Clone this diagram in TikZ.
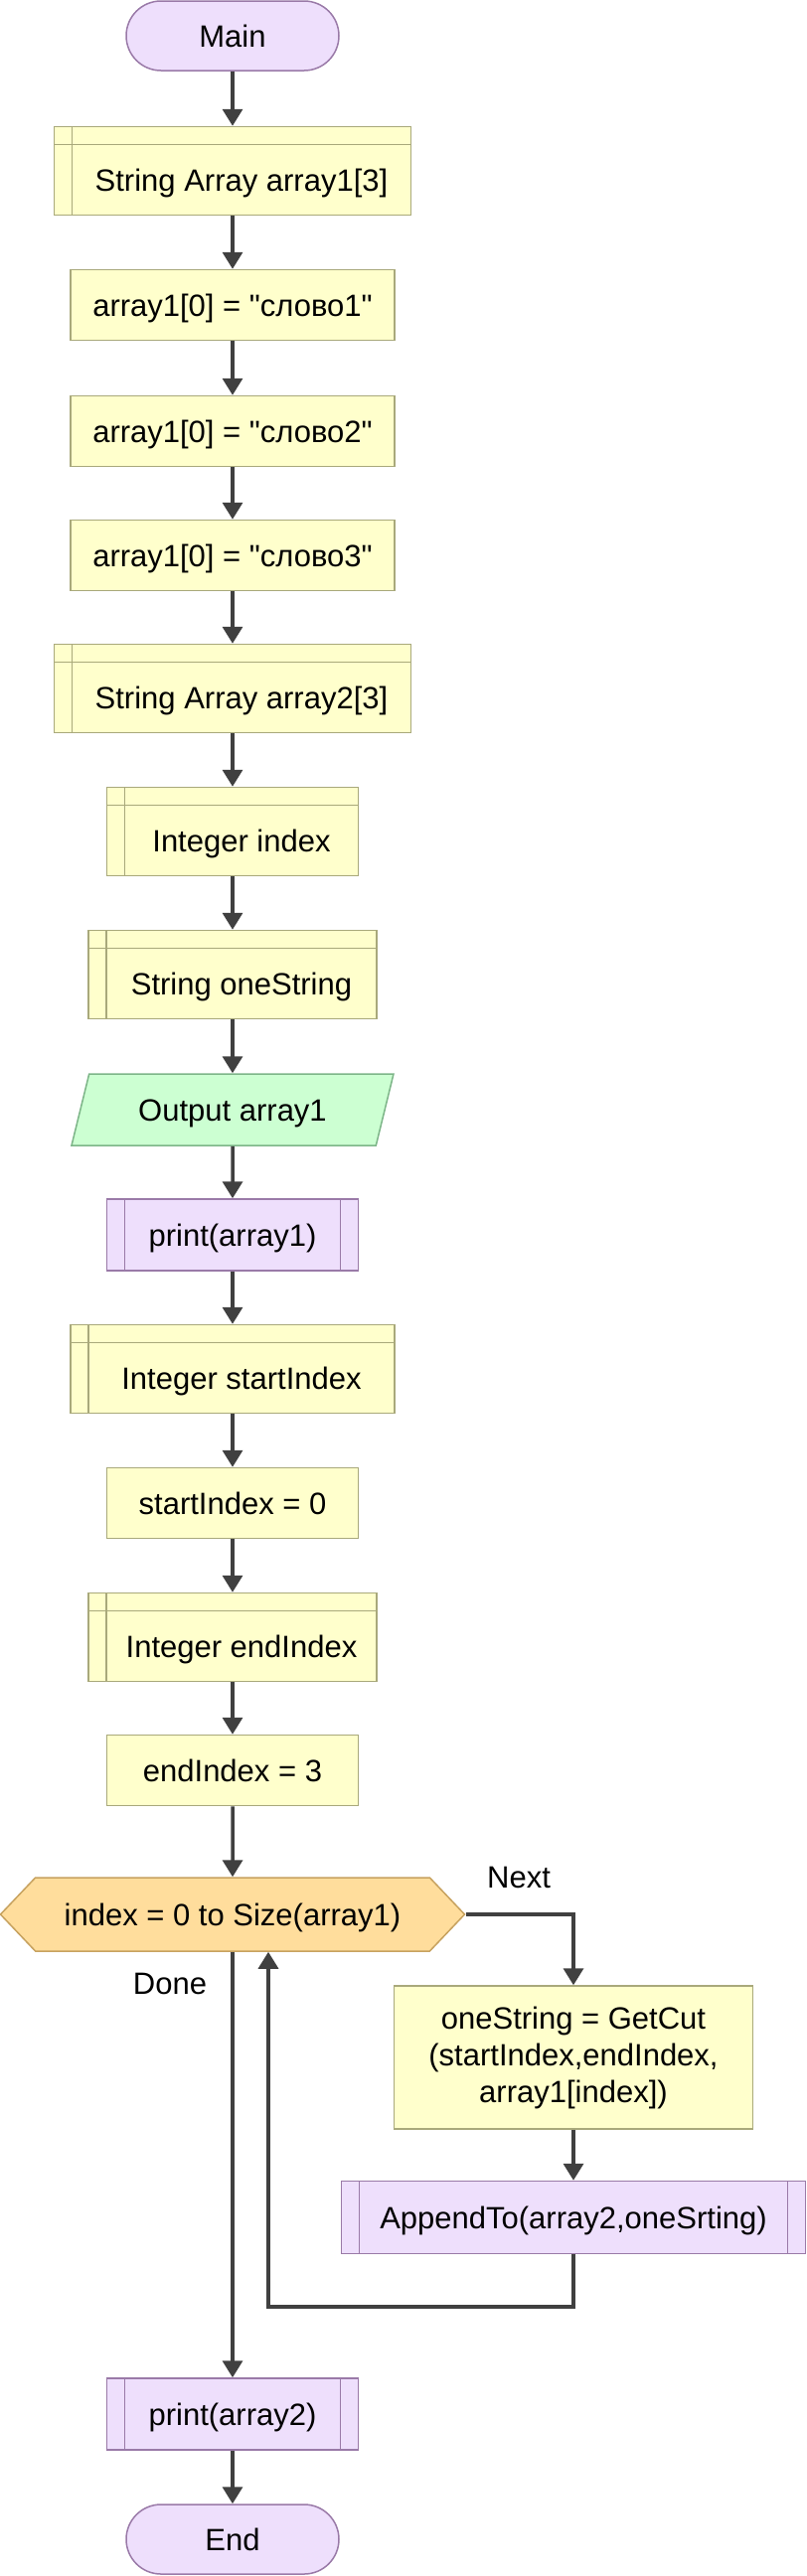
\documentclass[tikz,border=0pt]{standalone}
\usepackage{fontspec}
\newfontfamily\flowfont{Liberation Sans}
\usetikzlibrary{arrows.meta,shapes.geometric,shapes.symbols}
\definecolor{flowline}{HTML}{404040}
\definecolor{flowyellow}{HTML}{FFFFCC}
\definecolor{flowolive}{HTML}{A9A97B}
\definecolor{flowlilac}{HTML}{EEDFFC}
\definecolor{flowplum}{HTML}{9A7AA8}
\definecolor{flowmint}{HTML}{CCFFD2}
\definecolor{flowgreen}{HTML}{7DB588}
\definecolor{flowpeach}{HTML}{FFDD9C}
\definecolor{flowbrown}{HTML}{C7A25F}

\begin{document}
\begin{tikzpicture}[x=1pt,y=-1pt,
  font=\flowfont\fontsize{15.5}{18.5}\selectfont,
  box/.style={draw=flowolive,line width=0.75pt,fill=flowyellow,align=center,inner sep=3pt},
  proc/.style={box,minimum height=35.5pt,text height=11pt,text depth=0pt},
  decl/.style={box,minimum height=44.5pt,text height=20pt,text depth=0pt,
    execute at begin node={\hspace*{9pt}},
    path picture={\draw[flowolive,line width=0.75pt]
      ([xshift=9pt]path picture bounding box.north west) -- ([xshift=9pt]path picture bounding box.south west)
      ([yshift=-9pt]path picture bounding box.north west) -- ([yshift=-9pt]path picture bounding box.north east);}},
  call/.style={draw=flowplum,line width=0.75pt,fill=flowlilac,align=center,inner sep=3pt,
    minimum height=36pt,text height=11pt,text depth=0pt,
    path picture={\draw[flowplum,line width=0.75pt]
      ([xshift=9pt]path picture bounding box.north west) -- ([xshift=9pt]path picture bounding box.south west)
      ([xshift=-9pt]path picture bounding box.north east) -- ([xshift=-9pt]path picture bounding box.south east);}},
  term/.style={draw=flowplum,line width=0.75pt,fill=flowlilac,rounded corners=17.5pt,
    minimum width=107pt,minimum height=35pt,text height=11pt,text depth=0pt},
  io/.style={trapezium,trapezium left angle=63.4,trapezium right angle=116.6,trapezium stretches body,
    draw=flowgreen,line width=0.75pt,fill=flowmint,minimum width=162pt,minimum height=36pt,
    text height=11pt,text depth=0pt},
  loopbox/.style={signal,signal to=east and west,signal pointer angle=93,
    draw=flowbrown,line width=0.75pt,fill=flowpeach,minimum width=233.5pt,minimum height=37pt,
    text height=11pt,text depth=0pt},
  fl/.style={-{Triangle[length=8.5pt,width=10pt]},draw=flowline,line width=1.75pt}
]
\useasboundingbox (0,0) rectangle (405.5,1296.5);

\node[term] (main) at (117,18) {Main};
\node[decl,minimum width=179.5pt] (arr1) at (117,86) {String Array array1[3]};
\node[proc,minimum width=163pt] (set1) at (117,153.5) {array1[0] = "слово1"};
\node[proc,minimum width=163pt] (set2) at (117,217) {array1[0] = "слово2"};
\node[proc,minimum width=163pt] (set3) at (117,279.5) {array1[0] = "слово3"};
\node[decl,minimum width=179.5pt] (arr2) at (117,346.5) {String Array array2[3]};
\node[decl,minimum width=126.5pt] (idx) at (117,418.5) {Integer index};
\node[decl,minimum width=145pt] (onestr) at (117,490.5) {String oneString};
\node[io] (out1) at (117,558.5) {Output array1};
\node[call,minimum width=126.5pt] (prt1) at (117,621.5) {print(array1)};
\node[decl,minimum width=163pt] (sdecl) at (117,689) {Integer startIndex};
\node[proc,minimum width=126.5pt] (sset) at (117,756.5) {startIndex = 0};
\node[decl,minimum width=145pt] (edecl) at (117,824) {Integer endIndex};
\node[proc,minimum width=126.5pt] (eset) at (117,891) {endIndex = 3};
\node[loopbox] (loop) at (117,963.5) {index = 0 to Size(array1)};
\node[box,minimum width=180.5pt,minimum height=72pt] (cut) at (288.5,1035.5)
  {oneString = GetCut\\(startIndex,endIndex,\\array1[index])};
\node[call,minimum width=233.5pt,minimum height=36.5pt] (app) at (288.5,1116) {AppendTo(array2,oneSrting)};
\node[call,minimum width=126.5pt] (prt2) at (117,1215) {print(array2)};
\node[term] (fin) at (117,1278) {End};
\coordinate (ret) at (135,1161);
\node (next) at (261,945) {Next};
\node (done) at (85.5,998.5) {Done};

\draw[fl] (main) -- (arr1);
\draw[fl] (arr1) -- (set1);
\draw[fl] (set1) -- (set2);
\draw[fl] (set2) -- (set3);
\draw[fl] (set3) -- (arr2);
\draw[fl] (arr2) -- (idx);
\draw[fl] (idx) -- (onestr);
\draw[fl] (onestr) -- (out1);
\draw[fl] (out1) -- (prt1);
\draw[fl] (prt1) -- (sdecl);
\draw[fl] (sdecl) -- (sset);
\draw[fl] (sset) -- (edecl);
\draw[fl] (edecl) -- (eset);
\draw[fl] (eset) -- (loop);
\draw[fl] (loop.east) -| (cut.north);
\draw[fl] (cut) -- (app);
\draw[fl] (app.south) |- (ret) -- (ret |- loop.south);
\draw[fl] (loop.south) -- (prt2);
\draw[fl] (prt2) -- (fin);
\end{tikzpicture}
\end{document}
